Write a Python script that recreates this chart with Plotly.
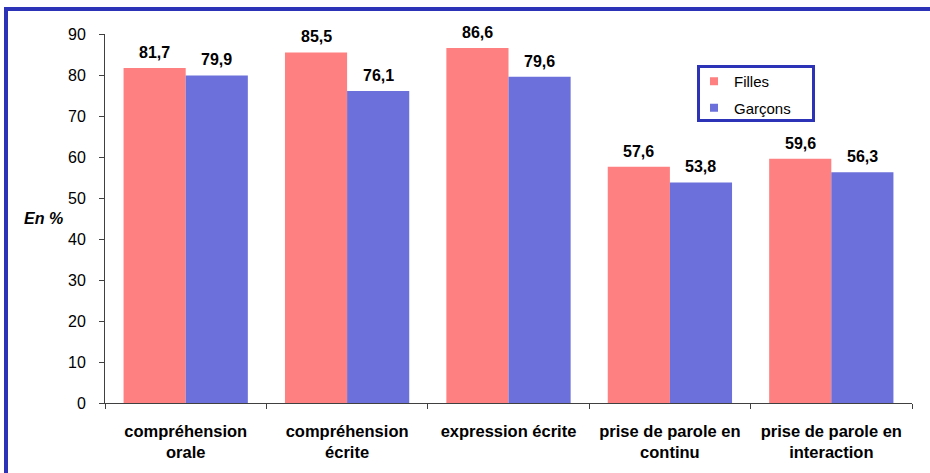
import plotly.graph_objects as go

# Scores by skill, split by gender (percent)
categories = [
    "compréhension<br>orale",
    "compréhension<br>écrite",
    "expression écrite",
    "prise de parole en<br>continu",
    "prise de parole en<br>interaction",
]
filles = [81.7, 85.5, 86.6, 57.6, 59.6]
garcons = [79.9, 76.1, 79.6, 53.8, 56.3]
y_ticks = [0, 10, 20, 30, 40, 50, 60, 70, 80, 90]

COL_F = "#FF8080"
COL_G = "#6B70DA"
FRAME = "#2C33B6"
AXIS = "#404040"
FONT = "Liberation Sans, Arial, sans-serif"

W, H = 930, 473
ML, MR, MT, MB = 105, 18, 34, 70
PW, PH = W - ML - MR, H - MT - MB


def px_x(x):
    return (x - ML) / PW


def px_y(y):
    return (H - MB - y) / PH


def fmt(v):
    return f"{v:.1f}".replace(".", ",")


fig = go.Figure()
fig.add_trace(go.Bar(x=categories, y=filles, name="Filles", marker_color=COL_F,
                     marker_line_width=0, showlegend=False))
fig.add_trace(go.Bar(x=categories, y=garcons, name="Garçons", marker_color=COL_G,
                     marker_line_width=0, showlegend=False))

# legend swatches
fig.add_trace(go.Scatter(x=[None], y=[None], mode="markers", name="Filles",
                         marker=dict(symbol="square", size=8, color=COL_F),
                         legendgroup="f"))
fig.add_trace(go.Scatter(x=[None], y=[None], mode="markers", name="Garçons",
                         marker=dict(symbol="square", size=8, color=COL_G),
                         legendgroup="g"))

annotations = []
bar_off = 31
for i, c in enumerate(categories):
    for vals, sh in ((filles, -bar_off), (garcons, bar_off)):
        annotations.append(dict(
            x=c, y=vals[i], xref="x", yref="y", xshift=sh, yshift=5,
            text="<b>" + fmt(vals[i]) + "</b>", showarrow=False,
            yanchor="bottom", xanchor="center",
            font=dict(family=FONT, size=16, color="black")))

annotations.append(dict(
    x=px_x(43), y=px_y(219), xref="paper", yref="paper", text="<b><i>En %</i></b>",
    showarrow=False, xanchor="center", yanchor="middle",
    font=dict(family=FONT, size=16, color="black")))

shapes = [
    dict(type="line", xref="paper", yref="paper", x0=px_x(4), x1=px_x(W),
         y0=px_y(9), y1=px_y(9), line=dict(color=FRAME, width=4)),
    dict(type="line", xref="paper", yref="paper", x0=px_x(6), x1=px_x(6),
         y0=px_y(7), y1=px_y(H), line=dict(color=FRAME, width=4)),
    # legend frame
    dict(type="rect", xref="paper", yref="paper", x0=px_x(698.5), x1=px_x(813.5),
         y0=px_y(66.5), y1=px_y(120.5), line=dict(color=FRAME, width=3),
         fillcolor="white", layer="below"),
]

fig.update_layout(
    width=W, height=H,
    margin=dict(l=ML, r=MR, t=MT, b=MB, pad=0),
    paper_bgcolor="white", plot_bgcolor="white",
    barmode="group", bargap=0.23, bargroupgap=0,
    font=dict(family=FONT, size=14, color="black"),
    annotations=annotations, shapes=shapes,
    legend=dict(x=px_x(694), y=px_y(65), xanchor="left", yanchor="top",
                borderwidth=0, bgcolor="rgba(0,0,0,0)",
                font=dict(family=FONT, size=15, color="black"),
                tracegroupgap=4, itemwidth=30),
)
fig.update_xaxes(
    showline=True, linecolor=AXIS, linewidth=1, showgrid=False,
    ticks="outside", tickson="boundaries", ticklen=5, tickcolor=AXIS,
    tickfont=dict(family=FONT, size=16.5, color="black", weight="bold"),
    ticklabelstandoff=13,
)
fig.update_yaxes(
    range=[0, 90], tickvals=y_ticks, showline=True, linecolor=AXIS, linewidth=1,
    showgrid=False, zeroline=False, ticks="outside", ticklen=5, tickcolor=AXIS,
    tickfont=dict(family=FONT, size=16, color="black"), ticklabelstandoff=10,
)

fig.write_html("out.html")
